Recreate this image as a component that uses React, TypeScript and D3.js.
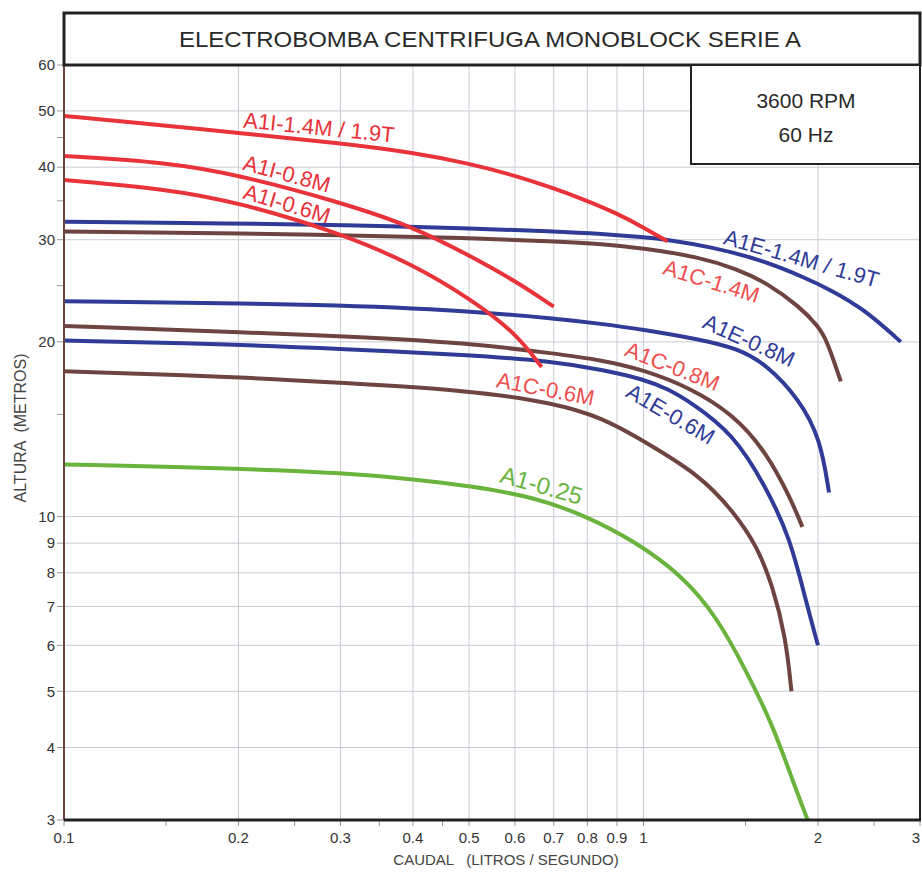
import * as d3 from "d3";

// curva H-Q de cada modelo: [caudal l/s, altura m]
const A1I_14M: [number, number][] = [
  [0.1, 49], [0.15, 47.2], [0.2, 45.8], [0.3, 44], [0.4, 42.4], [0.5, 40.6],
  [0.6, 38.7], [0.7, 36.8], [0.8, 35], [0.9, 33.3], [1.0, 31.5], [1.1, 29.8],
];
const A1I_08M: [number, number][] = [
  [0.1, 41.8], [0.15, 40.8], [0.2, 38.8], [0.3, 34.8], [0.4, 31.6],
  [0.5, 28.2], [0.6, 25.5], [0.7, 23.0],
];
const A1I_06M: [number, number][] = [
  [0.1, 38], [0.15, 36.7], [0.2, 34.8], [0.3, 30.8], [0.4, 27.2],
  [0.5, 23.8], [0.6, 20.8], [0.667, 18.1],
];
const A1E_14M: [number, number][] = [
  [0.1, 32.2], [0.2, 32], [0.3, 31.8], [0.5, 31.4], [0.7, 31], [0.85, 30.7],
  [1.0, 30.3], [1.1, 30], [1.3, 29.2], [1.6, 27.7], [1.9, 25.8], [2.1, 24.6],
  [2.4, 22.8], [2.78, 20.0],
];
const A1C_14M: [number, number][] = [
  [0.1, 31], [0.3, 30.6], [0.5, 30.2], [0.7, 29.8], [0.85, 29.5], [1.0, 29.0],
  [1.25, 28], [1.45, 26.7], [1.63, 25.3], [1.86, 23], [2.0, 21.3], [2.07, 20.2],
  [2.19, 17.1],
];
const A1E_08M: [number, number][] = [
  [0.1, 23.5], [0.3, 23.2], [0.5, 22.6], [0.72, 21.9], [0.84, 21.5], [1.0, 21.0],
  [1.25, 20.2], [1.45, 19.5], [1.63, 18.3], [1.86, 15.9], [2.02, 13.6], [2.09, 11.0],
];
const A1C_08M: [number, number][] = [
  [0.1, 21.3], [0.3, 20.5], [0.5, 19.9], [0.7, 19.1], [0.85, 18.6], [1.0, 17.9],
  [1.2, 16.7], [1.43, 15.0], [1.63, 12.9], [1.79, 10.8], [1.88, 9.6],
];
const A1E_06M: [number, number][] = [
  [0.1, 20.1], [0.2, 19.8], [0.3, 19.45], [0.5, 19.0], [0.7, 18.5], [0.85, 17.9],
  [1.0, 17.25], [1.1, 16.6], [1.2, 15.8], [1.43, 13.9], [1.63, 11.2], [1.79, 9.2],
  [1.91, 7.1], [2.0, 6.0],
];
const A1C_06M: [number, number][] = [
  [0.1, 17.8], [0.2, 17.4], [0.3, 17.0], [0.5, 16.5], [0.7, 15.7], [0.85, 14.8],
  [1.0, 13.5], [1.25, 11.8], [1.43, 10.2], [1.57, 8.9], [1.67, 7.6], [1.76, 6.2],
  [1.8, 5.0],
];
const A1_025: [number, number][] = [
  [0.1, 12.3], [0.2, 12.1], [0.3, 11.9], [0.4, 11.6], [0.5, 11.3], [0.65, 10.8],
  [0.8, 10.0], [0.96, 9.1], [1.17, 7.9], [1.34, 6.7], [1.5, 5.45], [1.67, 4.38],
  [1.81, 3.5], [1.92, 3.0],
];

const xTicks = [0.1, 0.2, 0.3, 0.4, 0.5, 0.6, 0.7, 0.8, 0.9, 1, 2, 3];
const xMinor = [0.15, 0.25, 0.35, 0.45, 1.5, 2.5];
const yTicks = [3, 4, 5, 6, 7, 8, 9, 10, 20, 30, 40, 50, 60];
const yMinor = [15, 25, 35, 45];

const RED = "#e8333a";
const BLUE = "#2f3b97";
const BROWN = "#6d4440";
const GREEN = "#6ab43e";
const CORAL = "#ee4f4f";

const curves = [
  { data: A1C_14M, color: BROWN },
  { data: A1C_08M, color: BROWN },
  { data: A1C_06M, color: BROWN },
  { data: A1E_14M, color: BLUE },
  { data: A1E_08M, color: BLUE },
  { data: A1E_06M, color: BLUE },
  { data: A1_025, color: GREEN },
  { data: A1I_14M, color: RED },
  { data: A1I_08M, color: RED },
  { data: A1I_06M, color: RED },
];

// etiquetas: sobre que curva, en que caudal, desplazamiento de la linea base
// (px, negativo = encima) y angulo fijo opcional
const labels = [
  { text: "A1I-1.4M / 1.9T", on: A1I_14M, q: 0.274, off: -6, color: RED, size: 22 },
  { text: "A1I-0.8M", on: A1I_08M, q: 0.239, off: -6, color: RED, size: 22 },
  { text: "A1I-0.6M", on: A1I_06M, q: 0.239, off: -5, color: RED, size: 22 },
  { text: "A1E-1.4M / 1.9T", on: A1E_14M, q: 1.84, off: -9, rot: 16, color: BLUE, size: 22 },
  { text: "A1C-1.4M", on: A1C_14M, q: 1.34, off: 27, color: CORAL, size: 22 },
  { text: "A1E-0.8M", on: A1E_08M, q: 1.49, off: -5, color: BLUE, size: 22 },
  { text: "A1C-0.8M", on: A1C_08M, q: 1.1, off: -6, color: CORAL, size: 22 },
  { text: "A1E-0.6M", on: A1E_06M, q: 1.16, off: 28, color: BLUE, size: 22 },
  { text: "A1C-0.6M", on: A1C_06M, q: 0.671, off: -5, color: CORAL, size: 22 },
  { text: "A1-0.25", on: A1_025, q: 0.657, off: -5, color: GREEN, size: 24 },
];

const W = 922;
const H = 872;
const left = 64;
const right = 920;
const top = 65;
const bottom = 820;
const FONT = "'Liberation Sans', Arial, Helvetica, sans-serif";

export default function App() {
  const x = d3.scaleLog().domain([0.1, 3]).range([left, right]);
  const y = d3.scaleLog().domain([3, 60]).range([bottom, top]);

  const line = d3
    .line<[number, number]>()
    .x((d) => x(d[0]))
    .y((d) => y(d[1]))
    .curve(d3.curveBasis);

  // punto de la curva en pixeles para un caudal dado
  const at = (data: [number, number][], q: number) => {
    const px = x(q);
    const pts = data.map((d) => [x(d[0]), y(d[1])]);
    let i = 0;
    while (i < pts.length - 2 && pts[i + 1][0] < px) i++;
    const [x0, y0] = pts[i];
    const [x1, y1] = pts[i + 1];
    const t = (px - x0) / (x1 - x0);
    return [px, y0 + t * (y1 - y0)];
  };

  const gridX = xTicks.filter((v) => v > 0.1 && v < 3);
  const gridY = yTicks.filter((v) => v > 3 && v < 60);

  return (
    <svg
      width={W}
      height={H}
      style={{ position: "absolute", left: 0, top: 0, background: "#fff" }}
      fontFamily={FONT}
    >
      <defs>
        <clipPath id="plot">
          <rect x={left} y={top} width={right - left} height={bottom - top} />
        </clipPath>
      </defs>

      {/* rejilla */}
      <g stroke="#cacad4" strokeWidth={1}>
        {gridX.map((v) => (
          <line key={"gx" + v} x1={x(v)} x2={x(v)} y1={top} y2={bottom} />
        ))}
        {gridY.map((v) => (
          <line key={"gy" + v} x1={left} x2={right} y1={y(v)} y2={y(v)} />
        ))}
      </g>

      {/* curvas */}
      <g clipPath="url(#plot)" fill="none" strokeWidth={4} strokeLinecap="butt">
        {curves.map((c, i) => (
          <path key={i} d={line(c.data) ?? ""} stroke={c.color} />
        ))}
      </g>

      {/* etiquetas de curvas, siguiendo la tangente */}
      {labels.map((l) => {
        const [cx, cy] = at(l.on, l.q);
        const [ax, ay] = at(l.on, l.q / 1.1);
        const [bx, by] = at(l.on, l.q * 1.1);
        const ang = l.rot ?? (Math.atan2(by - ay, bx - ax) * 180) / Math.PI;
        return (
          <text
            key={l.text}
            transform={`translate(${cx},${cy}) rotate(${ang})`}
            y={l.off}
            textAnchor="middle"
            fontSize={l.size}
            fill={l.color}
          >
            {l.text}
          </text>
        );
      })}

      {/* ticks */}
      <g stroke="#999" strokeWidth={1}>
        {xTicks.concat(xMinor).map((v) => (
          <line key={"tx" + v} x1={x(v)} x2={x(v)} y1={bottom} y2={bottom + 6} />
        ))}
        {yTicks.concat(yMinor).map((v) => (
          <line key={"ty" + v} x1={left - 7} x2={left} y1={y(v)} y2={y(v)} />
        ))}
      </g>
      <g fontSize={15} fill="#333">
        {xTicks.map((v) => (
          <text
            key={"lx" + v}
            x={v === 3 ? x(v) - 4 : x(v)}
            y={bottom + 23}
            textAnchor="middle"
          >
            {String(v)}
          </text>
        ))}
        {yTicks.map((v) => (
          <text key={"ly" + v} x={left - 9} y={y(v)} dy="0.35em" textAnchor="end">
            {String(v)}
          </text>
        ))}
      </g>

      {/* marco */}
      <line x1={left} x2={left} y1={top} y2={bottom} stroke={BROWN} strokeWidth={2} />
      <line x1={left} x2={right + 1} y1={bottom} y2={bottom} stroke="#222" strokeWidth={3} />
      <line x1={right} x2={right} y1={top} y2={bottom} stroke="#222" strokeWidth={2} />

      {/* cuadro de titulo */}
      <rect x={left} y={13} width={right - left} height={top - 13} fill="#fff" stroke="#222" strokeWidth={3} />
      <text x={490} y={39} dy="0.35em" textAnchor="middle" fontSize={22} fill="#2a2a2a" textLength={622} lengthAdjust="spacingAndGlyphs">
        ELECTROBOMBA CENTRIFUGA MONOBLOCK SERIE A
      </text>

      {/* cuadro rpm */}
      <rect x={691} y={top} width={right - 691} height={164 - top} fill="#fff" stroke="#222" strokeWidth={2} />
      <text x={806} y={108} textAnchor="middle" fontSize={21} fill="#2a2a2a">
        3600 RPM
      </text>
      <text x={806} y={142} textAnchor="middle" fontSize={21} fill="#2a2a2a">
        60 Hz
      </text>

      {/* titulos de ejes */}
      <text x={506} y={865} textAnchor="middle" fontSize={15} fill="#444" xmlSpace="preserve">
        {"CAUDAL   (LITROS / SEGUNDO)"}
      </text>
      <text
        transform={`translate(26,428) rotate(-90)`}
        textAnchor="middle"
        fontSize={16}
        fill="#444"
        xmlSpace="preserve"
      >
        {"ALTURA  (METROS)"}
      </text>
    </svg>
  );
}
